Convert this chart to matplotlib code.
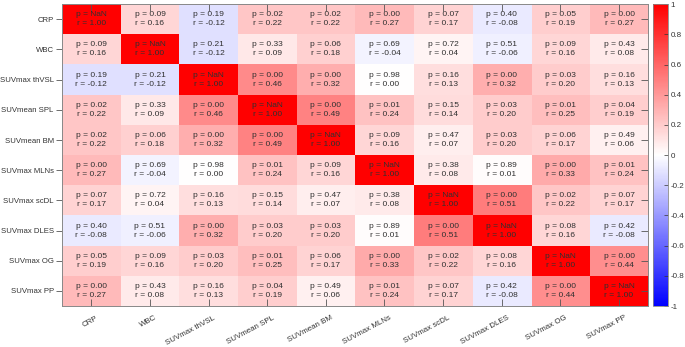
import matplotlib
matplotlib.use('Agg')
import matplotlib.pyplot as plt
import matplotlib.transforms as mtransforms
import numpy as np
from matplotlib.colors import LinearSegmentedColormap

plt.rcParams['font.family'] = ['Liberation Sans', 'DejaVu Sans']

labels = ['CRP', 'WBC', 'SUVmax thVSL', 'SUVmean SPL', 'SUVmean BM',
          'SUVmax MLNs', 'SUVmax scDL', 'SUVmax DLES', 'SUVmax OG', 'SUVmax PP']

r_vals = np.array([
    [1.00, 0.16, -0.12, 0.22, 0.22, 0.27, 0.17, -0.08, 0.19, 0.27],
    [0.16, 1.00, -0.12, 0.09, 0.18, -0.04, 0.04, -0.06, 0.16, 0.08],
    [-0.12, -0.12, 1.00, 0.46, 0.32, 0.00, 0.13, 0.32, 0.20, 0.13],
    [0.22, 0.09, 0.46, 1.00, 0.49, 0.24, 0.14, 0.20, 0.25, 0.19],
    [0.22, 0.18, 0.32, 0.49, 1.00, 0.16, 0.07, 0.20, 0.17, 0.06],
    [0.27, -0.04, 0.00, 0.24, 0.16, 1.00, 0.08, 0.01, 0.33, 0.24],
    [0.17, 0.04, 0.13, 0.14, 0.07, 0.08, 1.00, 0.51, 0.22, 0.17],
    [-0.08, -0.06, 0.32, 0.20, 0.20, 0.01, 0.51, 1.00, 0.16, -0.08],
    [0.19, 0.16, 0.20, 0.25, 0.17, 0.33, 0.22, 0.16, 1.00, 0.44],
    [0.27, 0.08, 0.13, 0.19, 0.06, 0.24, 0.17, -0.08, 0.44, 1.00],
])

nan = np.nan
p_vals = np.array([
    [nan, 0.09, 0.19, 0.02, 0.02, 0.00, 0.07, 0.40, 0.05, 0.00],
    [0.09, nan, 0.21, 0.33, 0.06, 0.69, 0.72, 0.51, 0.09, 0.43],
    [0.19, 0.21, nan, 0.00, 0.00, 0.98, 0.16, 0.00, 0.03, 0.16],
    [0.02, 0.33, 0.00, nan, 0.00, 0.01, 0.15, 0.03, 0.01, 0.04],
    [0.02, 0.06, 0.00, 0.00, nan, 0.09, 0.47, 0.03, 0.06, 0.49],
    [0.00, 0.69, 0.98, 0.01, 0.09, nan, 0.38, 0.89, 0.00, 0.01],
    [0.07, 0.72, 0.16, 0.15, 0.47, 0.38, nan, 0.00, 0.02, 0.07],
    [0.40, 0.51, 0.00, 0.03, 0.03, 0.89, 0.00, nan, 0.08, 0.42],
    [0.05, 0.09, 0.03, 0.01, 0.06, 0.00, 0.02, 0.08, nan, 0.00],
    [0.00, 0.43, 0.16, 0.04, 0.49, 0.01, 0.07, 0.42, 0.00, nan],
])

cmap = LinearSegmentedColormap.from_list('bwr_m', [(0, 0, 1), (1, 1, 1), (1, 0, 0)])

fig = plt.figure(figsize=(6.85, 3.47), dpi=100)
ax = fig.add_axes([0.0905, 0.118, 0.856, 0.870])
cax = fig.add_axes([0.954, 0.118, 0.021, 0.870])

im = ax.imshow(r_vals, cmap=cmap, vmin=-1, vmax=1, aspect='auto', interpolation='nearest')

n = len(labels)
for i in range(n):
    for j in range(n):
        p = p_vals[i, j]
        ptxt = 'p = NaN' if np.isnan(p) else 'p = %.2f' % p
        txt = ptxt + '\nr = %.2f' % r_vals[i, j]
        ax.text(j, i, txt, ha='center', va='center', fontsize=6.0,
                color='#303030', linespacing=1.4)

tick_col = '#555555'
ax.set_xticks(range(n))
ax.set_yticks(range(n))
ax.set_xticklabels(labels, rotation=28, ha='right', va='top', rotation_mode='anchor',
                   fontsize=5.7, color='#333333')
ax.set_yticklabels(labels, fontsize=5.6, color='#333333')
ax.tick_params(axis='x', direction='in', length=5, width=0.6, color=tick_col,
               top=True, bottom=True, pad=6)
ax.tick_params(axis='y', direction='out', length=4, width=0.6, color=tick_col, pad=2)
shift = mtransforms.ScaledTranslation(5 / 100, 0, fig.dpi_scale_trans)
for lab in ax.get_xticklabels():
    lab.set_transform(lab.get_transform() + shift)

sec = ax.secondary_yaxis('right')
sec.set_yticks(range(n))
sec.tick_params(direction='in', length=5, width=0.6, color=tick_col, labelright=False)
sec.spines['right'].set_visible(False)

for s in ax.spines.values():
    s.set_color('#888888')
    s.set_linewidth(0.7)

cb = fig.colorbar(im, cax=cax, ticks=np.round(np.arange(-1, 1.01, 0.2), 1))
cb.ax.set_yticklabels(['-1', '-0.8', '-0.6', '-0.4', '-0.2', '0', '0.2', '0.4', '0.6', '0.8', '1'])
cb.ax.tick_params(labelsize=5.8, colors='#333333', direction='in', length=3, width=0.5, pad=2)
cb.outline.set_edgecolor('#888888')
cb.outline.set_linewidth(0.6)

fig.savefig('out.png', dpi=100)
